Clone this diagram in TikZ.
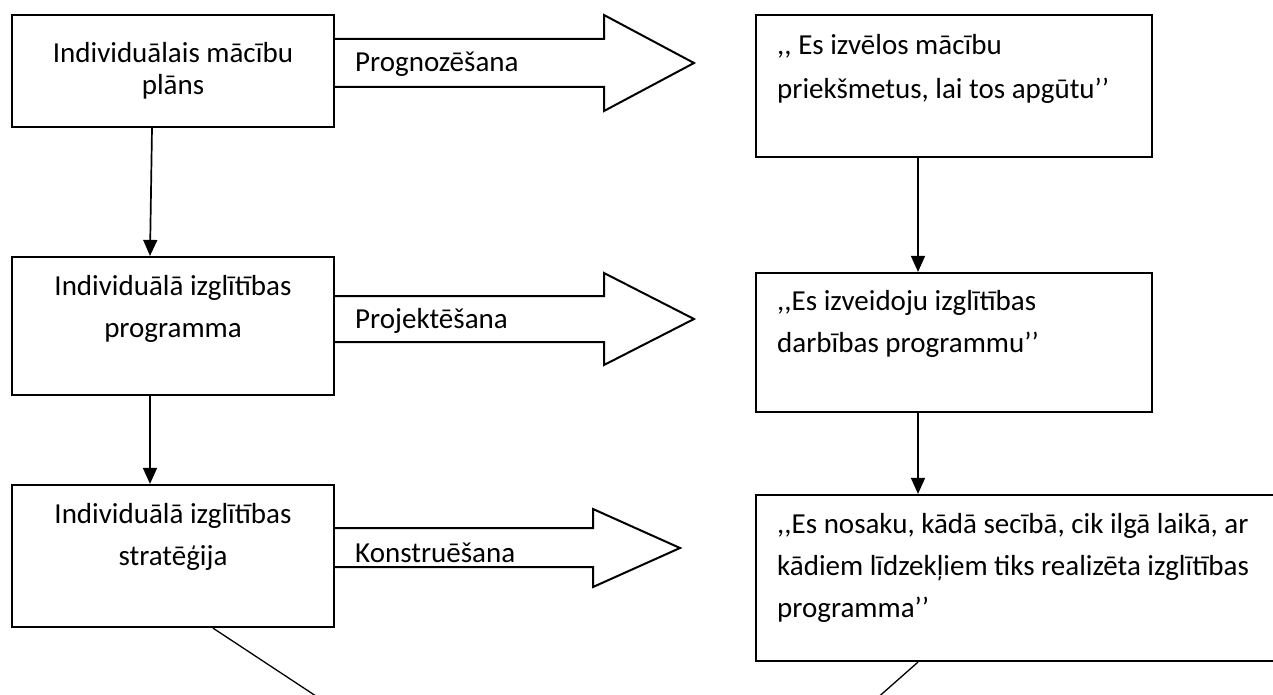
\documentclass[tikz,border=0pt]{standalone}
\usepackage{fontspec}
\newfontfamily\cf{Carlito}[Ligatures=TeXOff]
\usetikzlibrary{arrows.meta}
\begin{document}
\begin{tikzpicture}[x=1pt,y=-1pt,
  box/.style={draw, line width=2.2pt, rectangle, inner sep=0pt},
  txt/.style={inner sep=0pt, font=\cf\fontsize{29}{42}\selectfont},
  flow/.style={line width=1.7pt, -{Triangle[length=16pt,width=14pt]}},
  blockarrow/.style={draw, line width=2pt, line join=miter},
  slant/.style={line width=1.3pt}]
\useasboundingbox (0,0) rectangle (1273,695);
\clip (0,0) rectangle (1273,695);
\fill[white] (0,0) rectangle (1273,695);

% left column
\node[box, minimum width=322pt, minimum height=112pt] (L1) at (173,71) {};
\node[box, minimum width=322pt, minimum height=138pt] (L2) at (173,326) {};
\node[box, minimum width=322pt, minimum height=142pt] (L3) at (173,556) {};

% multi-line texts are anchored at the baseline of their last line
\node[txt, font=\cf\fontsize{29}{32}\selectfont, align=center, anchor=base] (L1t) at (173,95)
  {Individuālais mācību\\plāns};
\node[txt, align=center, anchor=base] (L2t) at (173,337)
  {Individuālā izglītības\\programma};
\node[txt, align=center, anchor=base] (L3t) at (173,565)
  {Individuālā izglītības\\stratēģija};

% right column
\node[box, minimum width=396pt, minimum height=142pt] (R1) at (954,86) {};
\node[box, minimum width=396pt, minimum height=139pt] (R2) at (954,342.5) {};
\node[box, minimum width=534pt, minimum height=166pt] (R3) at (1023,578) {};

\node[txt, font=\cf\fontsize{29}{44}\selectfont, align=left, anchor=base west] (R1t) at (777,99)
  {,, Es izvēlos mācību\\priekšmetus, lai tos apgūtu’’};
\node[txt, align=left, anchor=base west] (R2t) at (777,352)
  {,,Es izveidoju izglītības\\darbības programmu’’};
\node[txt, align=left, anchor=base west] (R3t) at (777,617)
  {,,Es nosaku, kādā secībā, cik ilgā laikā, ar\\kādiem līdzekļiem tiks realizēta izglītības\\programma’’};

% block arrows between the columns
\draw[blockarrow] (L1.east |- 0,39) -- (604,39) -- (604,15) -- (694,63)
  -- (604,111) -- (604,87) -- (L1.east |- 0,87);
\draw[blockarrow] (L2.east |- 0,296) -- (604,296) -- (604,273) -- (694,319)
  -- (604,365) -- (604,342) -- (L2.east |- 0,342);
\draw[blockarrow] (L3.east |- 0,528) -- (593,528) -- (593,509) -- (680,548)
  -- (593,587) -- (593,567) -- (L3.east |- 0,567);

\node[txt, anchor=base west] (a1) at (355,72) {Prognozēšana};
\node[txt, anchor=base west] (a2) at (355,328) {Projektēšana};
\node[txt, anchor=base west] (a3) at (355,562) {Konstruēšana};

% vertical connectors
\draw[flow] ([xshift=-21pt]L1.south) -- ([xshift=-23pt]L2.north);
\draw[flow] ([xshift=-23pt]L2.south) -- ([xshift=-23pt]L3.north);
\draw[flow] ([xshift=-36pt]R1.south) -- ([xshift=-36pt]R2.north);
\draw[flow] ([xshift=-36pt]R2.south) -- ([xshift=-105pt]R3.north);

% converging lines below the last row
\coordinate (ldown) at (322,700);
\coordinate (rdown) at (875,700);
\draw[slant] ([xshift=40pt]L3.south) -- (ldown);
\draw[slant] ([xshift=-105pt]R3.south) -- (rdown);
\end{tikzpicture}
\end{document}
